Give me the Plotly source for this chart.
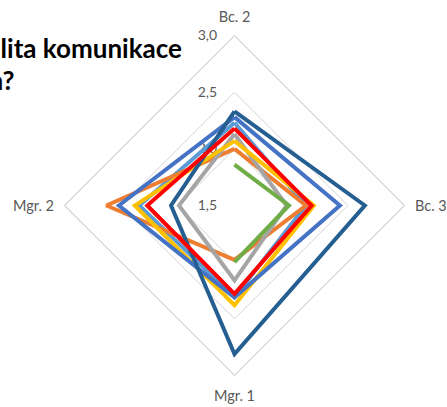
import plotly.graph_objects as go

categories = ["Bc. 2", "Bc. 3", "Mgr. 1", "Mgr. 2"]

series_names = ["Řada 1", "Řada 2", "Řada 3", "Řada 4", "Řada 5", "Řada 6", "Řada 7", "Řada 8"]
s1_lightblue = [2.23, 2.13, 2.31, 2.34]
s2_orange = [2.00, 2.13, 1.98, 2.63]
s3_gray = [2.13, 1.96, 2.16, 1.99]
s4_yellow = [2.07, 2.20, 2.38, 2.38]
s5_blue = [2.28, 2.43, 2.31, 2.52]
s6_green = [1.86, 1.98, 2.00, None]
s7_darkblue = [2.33, 2.65, 2.81, 2.06]
s8_red = [2.18, 2.18, 2.28, 2.27]

series_values = [s1_lightblue, s2_orange, s3_gray, s4_yellow, s5_blue, s6_green, s7_darkblue, s8_red]
colors = ["#5B9BD5", "#ED7D31", "#A5A5A5", "#FFC000", "#4472C4", "#70AD47", "#255E91", "#FF0000"]

radial_ticks = [1.5, 2.0, 2.5, 3.0]

title_line1 = "Jaká je kvalita komunikace"
title_line2 = "s vyučujícími během studia?"

W, H = 447, 407
FONT = "Lato, Carlito, Calibri, sans-serif"

fig = go.Figure()
for name, vals, col in zip(series_names, series_values, colors):
    r = list(vals) + [vals[0]]
    theta = categories + [categories[0]]
    fig.add_trace(go.Scatterpolar(
        r=r, theta=theta, mode="lines", name=name,
        line=dict(color=col, width=4), connectgaps=False,
        hoverinfo="skip",
    ))

cx, cy, R = 234.5, 205.5, 170
fig.update_layout(
    width=W, height=H,
    margin=dict(l=0, r=0, t=0, b=0),
    paper_bgcolor="white",
    plot_bgcolor="white",
    separators=", ",
    showlegend=False,
    font=dict(family=FONT, color="#595959", size=13),
    polar=dict(
        domain=dict(x=[(cx - R) / W, (cx + R) / W], y=[1 - (cy + R) / H, 1 - (cy - R) / H]),
        bgcolor="white",
        gridshape="linear",
        radialaxis=dict(
            range=[1.5, 3.0], tickvals=radial_ticks, tickformat=".1f",
            showline=False, ticks="outside", ticklen=12, tickcolor="rgba(0,0,0,0)",
            angle=90, tickangle=90, side="counterclockwise",
            gridcolor="#D4D4D4", gridwidth=1.2, layer="below traces",
            tickfont=dict(size=14, color="#595959"),
        ),
        angularaxis=dict(
            rotation=90, direction="clockwise",
            showgrid=False, showline=True, linecolor="#D4D4D4", linewidth=1.2,
            ticks="outside", ticklen=7, tickcolor="rgba(0,0,0,0)",
            layer="below traces",
            tickfont=dict(size=14.5, color="#595959"),
        ),
    ),
    annotations=[
        dict(text="<b>" + title_line1 + "</b>", xref="paper", yref="paper",
             x=184 / W, y=1 - 48 / H, xanchor="right", yanchor="middle", showarrow=False,
             font=dict(size=26, color="#000000", family=FONT)),
        dict(text="<b>" + title_line2 + "</b>", xref="paper", yref="paper",
             x=16 / W, y=1 - 80 / H, xanchor="right", yanchor="middle", showarrow=False,
             font=dict(size=26, color="#000000", family=FONT)),
    ],
)

fig.write_html("out.html", config={"displayModeBar": False},
               post_script="document.body.style.margin='0';")
